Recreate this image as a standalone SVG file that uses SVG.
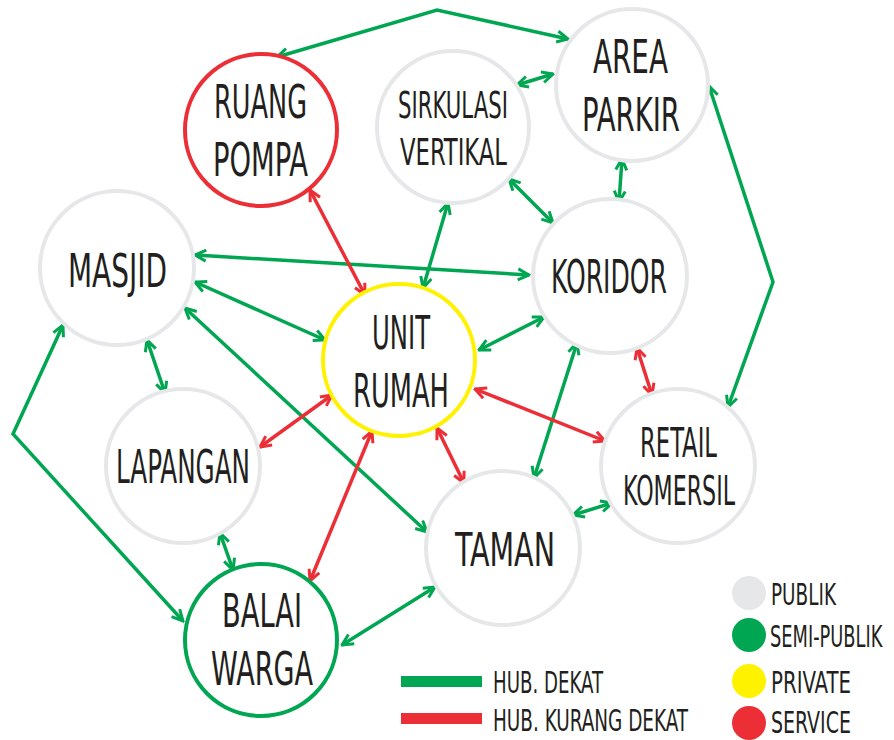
<svg xmlns="http://www.w3.org/2000/svg" width="894" height="740" viewBox="0 0 894 740">
<style>
.n{fill:#fff;stroke-width:4}
.pub{stroke:#e6e7e8}
.semi{stroke:#00a651}
.prv{stroke:#fff200}
.srv{stroke:#ec2e37}
text{font-family:"DejaVu Sans Condensed","DejaVu Sans",sans-serif;font-stretch:condensed;fill:#231f20}
.l{font-size:46px}
.m{font-size:40px}
.s{font-size:37px}
.g{font-size:30px}
.cg{stroke:#00a651;stroke-width:3.5;fill:none;marker-start:url(#ag);marker-end:url(#ag)}
.cr{stroke:#ec2e37;stroke-width:3.5;fill:none;marker-start:url(#ar);marker-end:url(#ar)}
</style>
<defs>
<marker id="ag" viewBox="0 0 14 14" refX="12.5" refY="7" markerWidth="14" markerHeight="14" markerUnits="userSpaceOnUse" orient="auto-start-reverse">
<path d="M1.5,1.5 L12.5,7 L1.5,12.5" fill="none" stroke="#00a651" stroke-width="3"/>
</marker>
<marker id="ar" viewBox="0 0 14 14" refX="12.5" refY="7" markerWidth="14" markerHeight="14" markerUnits="userSpaceOnUse" orient="auto-start-reverse">
<path d="M1.5,1.5 L12.5,7 L1.5,12.5" fill="none" stroke="#ec2e37" stroke-width="3"/>
</marker>
</defs>
<rect width="894" height="740" fill="#fff"/>
<g id="connectors">
<polyline class="cg" points="277,57 437,10 568,39"/>
<line class="cg" x1="517" y1="85" x2="553" y2="74"/>
<line class="cg" x1="622" y1="159" x2="619" y2="202"/>
<line class="cg" x1="509" y1="179" x2="553" y2="223"/>
<polyline class="cg" points="709,86 773,282 728,407"/>
<line class="cg" x1="195" y1="255" x2="529" y2="275"/>
<line class="cg" x1="448" y1="203" x2="423" y2="288"/>
<line class="cg" x1="195" y1="282" x2="325" y2="340"/>
<line class="cg" x1="185" y1="308" x2="427" y2="532"/>
<polyline class="cg" points="63,325 13,434 183,621"/>
<line class="cg" x1="147" y1="340" x2="165" y2="393"/>
<line class="cg" x1="220" y1="533" x2="233" y2="570"/>
<line class="cg" x1="342" y1="645" x2="435" y2="587"/>
<line class="cg" x1="544" y1="317" x2="479" y2="350"/>
<line class="cg" x1="577" y1="343" x2="534" y2="478"/>
<line class="cg" x1="573" y1="515" x2="612" y2="503"/>
<line class="cr" x1="310" y1="190" x2="365" y2="295"/>
<line class="cr" x1="332" y1="395" x2="260" y2="447"/>
<line class="cr" x1="372" y1="431" x2="310" y2="581"/>
<line class="cr" x1="437" y1="428" x2="464" y2="483"/>
<line class="cr" x1="475" y1="389" x2="605" y2="441"/>
<line class="cr" x1="637" y1="348" x2="652" y2="395"/>
</g>
<g id="ruang-pompa">
<circle class="n srv" cx="261" cy="130" r="76"/>
<text class="l" x="214" y="118" textLength="93" lengthAdjust="spacingAndGlyphs">RUANG</text>
<text class="l" x="213" y="176" textLength="95" lengthAdjust="spacingAndGlyphs">POMPA</text>
</g>
<g id="sirkulasi-vertikal">
<circle class="n pub" cx="453" cy="127" r="76"/>
<text class="s" x="398" y="118" textLength="110" lengthAdjust="spacingAndGlyphs">SIRKULASI</text>
<text class="s" x="400" y="165" textLength="107" lengthAdjust="spacingAndGlyphs">VERTIKAL</text>
</g>
<g id="area-parkir">
<circle class="n pub" cx="632" cy="85" r="76"/>
<text class="l" x="593" y="73" textLength="75" lengthAdjust="spacingAndGlyphs">AREA</text>
<text class="l" x="582" y="131" textLength="98" lengthAdjust="spacingAndGlyphs">PARKIR</text>
</g>
<g id="masjid">
<circle class="n pub" cx="117" cy="268" r="77"/>
<text class="l" x="68" y="287" textLength="99" lengthAdjust="spacingAndGlyphs">MASJID</text>
</g>
<g id="koridor">
<circle class="n pub" cx="610" cy="276" r="77"/>
<text class="l" x="551" y="293" textLength="116" lengthAdjust="spacingAndGlyphs">KORIDOR</text>
</g>
<g id="unit-rumah">
<circle class="n prv" cx="399" cy="360" r="76"/>
<text class="l" x="372" y="349" textLength="58" lengthAdjust="spacingAndGlyphs">UNIT</text>
<text class="l" x="353" y="407" textLength="96" lengthAdjust="spacingAndGlyphs">RUMAH</text>
</g>
<g id="lapangan">
<circle class="n pub" cx="183" cy="466" r="77"/>
<text class="l" x="116" y="483" textLength="134" lengthAdjust="spacingAndGlyphs">LAPANGAN</text>
</g>
<g id="retail-komersil">
<circle class="n pub" cx="678" cy="466" r="77"/>
<text class="m" x="640" y="457" textLength="77" lengthAdjust="spacingAndGlyphs">RETAIL</text>
<text class="m" x="623" y="505" textLength="112" lengthAdjust="spacingAndGlyphs">KOMERSIL</text>
</g>
<g id="taman">
<circle class="n pub" cx="503" cy="548" r="77"/>
<text class="l" x="455" y="566" textLength="100" lengthAdjust="spacingAndGlyphs">TAMAN</text>
</g>
<g id="balai-warga">
<circle class="n semi" cx="261" cy="640" r="76"/>
<text class="l" x="222" y="627" textLength="80" lengthAdjust="spacingAndGlyphs">BALAI</text>
<text class="l" x="211" y="685" textLength="102" lengthAdjust="spacingAndGlyphs">WARGA</text>
</g>
<g id="legend-lines">
<line x1="401" y1="681.5" x2="482" y2="681.5" stroke="#00a651" stroke-width="11"/>
<line x1="401" y1="718.5" x2="482" y2="718.5" stroke="#ec2e37" stroke-width="11"/>
<text class="g" x="493" y="693" textLength="110" lengthAdjust="spacingAndGlyphs">HUB. DEKAT</text>
<text class="g" x="493" y="731" textLength="195" lengthAdjust="spacingAndGlyphs">HUB. KURANG DEKAT</text>
</g>
<g id="legend-colors">
<circle cx="749" cy="593" r="17" fill="#e6e7e8"/>
<circle cx="749" cy="635" r="17" fill="#00a651"/>
<circle cx="749" cy="681" r="17" fill="#fff200"/>
<circle cx="749" cy="723" r="17" fill="#ec2e37"/>
<text class="g" x="771" y="605" textLength="65" lengthAdjust="spacingAndGlyphs">PUBLIK</text>
<text class="g" transform="matrix(0.66,0,0,1,770,647)">SEMI-PUBLIK</text>
<text class="g" x="771" y="693" textLength="80" lengthAdjust="spacingAndGlyphs">PRIVATE</text>
<text class="g" x="771" y="733" textLength="80" lengthAdjust="spacingAndGlyphs">SERVICE</text>
</g>
</svg>
